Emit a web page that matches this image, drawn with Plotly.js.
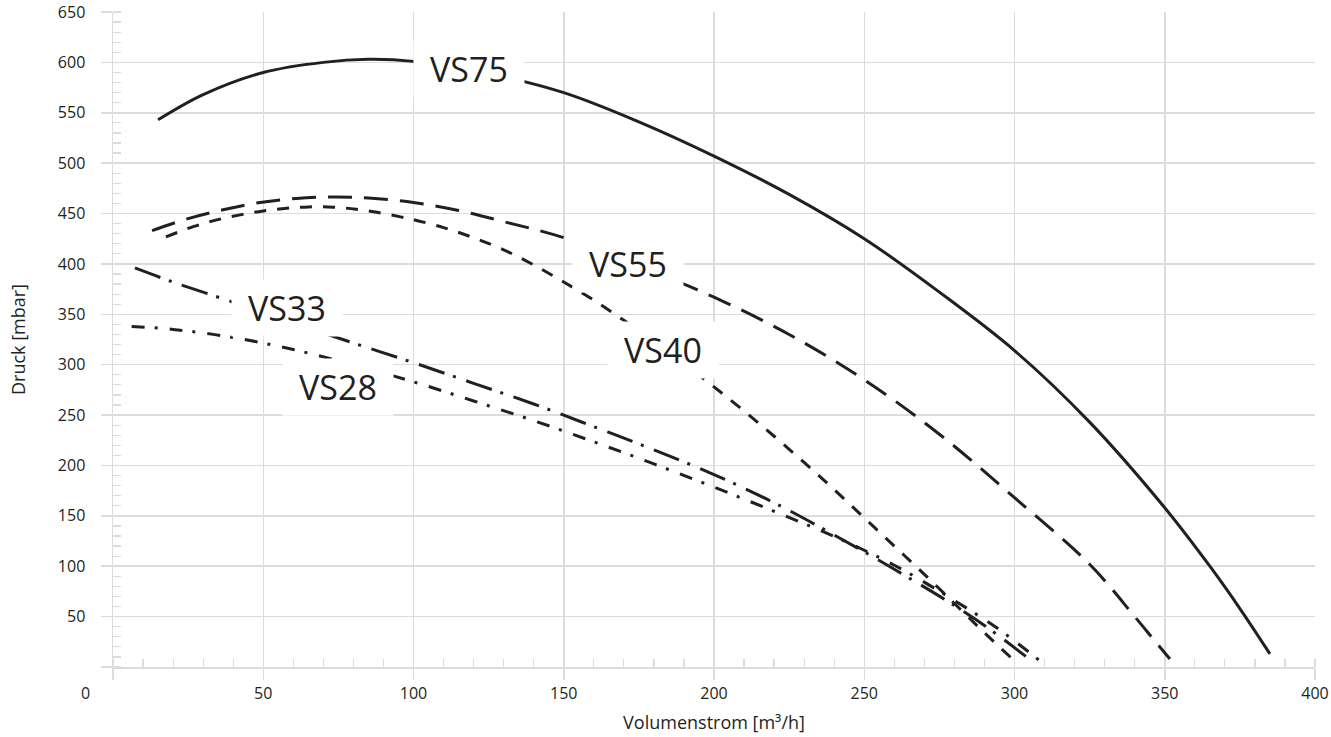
<!DOCTYPE html>
<html>
<head>
<meta charset="utf-8">
<script src="https://cdn.plot.ly/plotly-3.0.1.min.js"></script>
<style>html,body{margin:0;padding:0;background:#fff;}#chart{width:1331px;height:737px;}</style>
</head>
<body>
<div id="chart"></div>
<script>
// ---- data ----
var vs75_x = [15, 30, 50, 70, 85, 100, 125, 150, 175, 200, 225, 250, 275, 300, 325, 350, 365, 375, 385];
var vs75_y = [543, 568, 590, 600, 603, 601, 589, 570, 541, 507, 469, 425, 372, 314, 243, 158, 100, 58, 13];

var vs55_x = [13, 25, 37, 49, 61, 73, 85, 100, 115, 130, 150, 175, 200, 225, 250, 275, 300, 325, 340, 346.4, 351.7];
var vs55_y = [433, 445, 454, 461, 465, 466.5, 465.5, 461, 453, 442, 426, 398, 367, 330, 285, 231, 168, 102, 50, 27, 8];

var vs40_x = [17.6, 26.7, 34.5, 42.3, 50, 57.8, 65.1, 73.3, 80.9, 88.3, 95.7, 100, 110, 120, 130, 140, 150, 160, 170, 180, 190, 200, 210, 220, 230, 240, 250, 260, 270, 280, 290, 300];
var vs40_y = [426.8, 437, 443.7, 448.7, 452.6, 455.3, 456.6, 456.3, 454.3, 451, 446.7, 444, 436, 426, 414, 399, 382, 364, 344, 323, 301, 278, 254, 229, 203, 176, 148, 120, 92, 63, 34, 6];

var vs33_x = [7.3, 20, 40, 60, 80, 100, 120, 140, 160, 180, 200, 220, 240, 260, 280, 292, 305.7];
var vs33_y = [396, 382, 362, 341.5, 321.5, 302, 281.5, 261, 238.5, 215.5, 191, 163, 131, 97, 61, 37, 6];

var vs28_x = [6.2, 20, 40, 60, 80, 100, 120, 140, 160, 180, 200, 220, 240, 260, 280, 295, 308.5];
var vs28_y = [338, 335, 327, 315, 300, 283, 264, 244.5, 223.5, 201.5, 178.5, 154.5, 129.5, 101, 66, 37, 6];

var seriesNames = ['VS75', 'VS55', 'VS40', 'VS33', 'VS28'];
var labelX = [118.5, 171.4, 182.9, 57.8, 74.9];
var labelY = [593.5, 400.2, 314.1, 356.2, 278.3];

var xTickVals = [0, 50, 100, 150, 200, 250, 300, 350, 400];
var xTickText = ['', '50', '100', '150', '200', '250', '300', '350', '400'];
var yTickVals = [0, 50, 100, 150, 200, 250, 300, 350, 400, 450, 500, 550, 600, 650];
var yTickText = ['', '50', '100', '150', '200', '250', '300', '350', '400', '450', '500', '550', '600', '650'];

var xTitle = 'Volumenstrom [m³/h]';
var yTitle = 'Druck [mbar]';

// ---- styles ----
var ink = '#231f20';
var gridC = '#dcdcdc';
var dashes = ['solid', '24px,12px', '12px,11px', '27px,9px,3px,11px', '13px,10px,3px,12px'];
var xs = [vs75_x, vs55_x, vs40_x, vs33_x, vs28_x];
var ys = [vs75_y, vs55_y, vs40_y, vs33_y, vs28_y];

var traces = seriesNames.map(function (n, i) {
  return {
    type: 'scatter', mode: 'lines', name: n,
    x: xs[i], y: ys[i],
    line: {color: ink, width: 3, dash: dashes[i], shape: 'spline', smoothing: 1},
    hoverinfo: 'skip'
  };
});

var annotations = seriesNames.map(function (n, i) {
  return {
    x: labelX[i], y: labelY[i], xref: 'x', yref: 'y',
    text: n, showarrow: false,
    font: {size: 34, color: ink, family: '"Open Sans", sans-serif'},
    bgcolor: '#ffffff', width: 110, height: 56, borderpad: 0,
    xanchor: 'center', yanchor: 'middle'
  };
});
annotations.push({
  x: 0, y: 0, xref: 'paper', yref: 'paper', text: '0', showarrow: false,
  xshift: -28, yshift: -26, xanchor: 'center', yanchor: 'middle',
  font: {size: 16, color: ink}
});

var layout = {
  width: 1331, height: 737,
  margin: {l: 113, r: 16, t: 12, b: 70, pad: 0, autoexpand: false},
  paper_bgcolor: '#ffffff', plot_bgcolor: '#ffffff',
  showlegend: false,
  font: {family: '"Open Sans", sans-serif', color: ink, size: 16},
  xaxis: {
    range: [0, 400], tickmode: 'array', tickvals: xTickVals, ticktext: xTickText,
    ticks: 'outside', ticklen: 11, tickwidth: 1.5, tickcolor: gridC,
    showgrid: true, gridcolor: gridC, gridwidth: 1.5,
    showline: true, linecolor: gridC, linewidth: 1.5, zeroline: false,
    minor: {tickmode: 'linear', tick0: 0, dtick: 10, ticks: 'inside', ticklen: 8, tickwidth: 1.2, tickcolor: gridC, showgrid: false},
    tickfont: {size: 16, color: ink},
    title: {text: xTitle, font: {size: 18, color: ink}, standoff: 13},
    automargin: false, fixedrange: true
  },
  yaxis: {
    range: [0, 650], tickmode: 'array', tickvals: yTickVals, ticktext: yTickText,
    ticks: 'outside', ticklen: 11, tickwidth: 1.5, tickcolor: gridC,
    showgrid: true, gridcolor: gridC, gridwidth: 1.5,
    showline: true, linecolor: gridC, linewidth: 1.5, zeroline: false,
    minor: {tickmode: 'linear', tick0: 0, dtick: 10, ticks: 'inside', ticklen: 8, tickwidth: 1.2, tickcolor: gridC, showgrid: false},
    tickfont: {size: 16, color: ink},
    ticklabelstandoff: 12,
    title: {text: yTitle, font: {size: 18, color: ink}, standoff: 27},
    automargin: false, fixedrange: true
  },
  annotations: annotations
};

Plotly.newPlot('chart', traces, layout, {displayModeBar: false, staticPlot: true});
</script>
</body>
</html>
